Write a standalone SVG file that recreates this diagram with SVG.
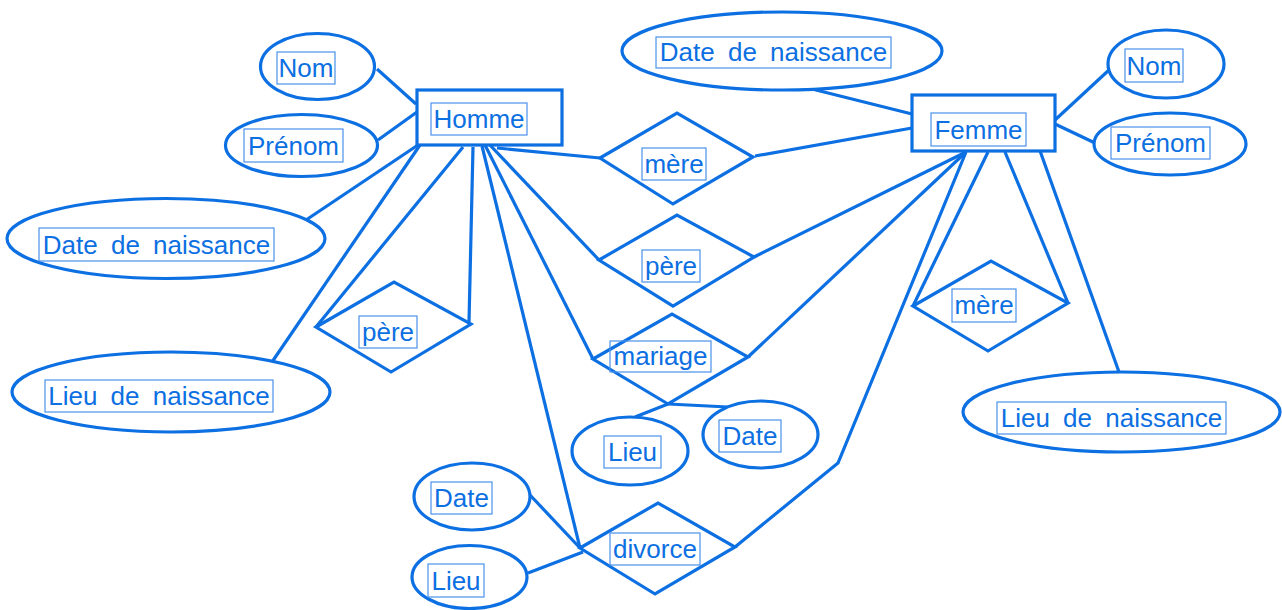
<svg xmlns="http://www.w3.org/2000/svg" width="1282" height="610" viewBox="0 0 1282 610">
<style>
.s{fill:none;stroke:#0c6fe2;stroke-width:3.2;stroke-linejoin:miter}
.e{fill:#fff;stroke:#0c6fe2;stroke-width:3.2}
.b{fill:none;stroke:#4a92ec;stroke-width:1.2}
.t{font-family:"Liberation Sans",Arial,sans-serif;font-size:26px;fill:#0c6fe2;text-anchor:middle}
.w{word-spacing:6px}
</style>
<rect width="1282" height="610" fill="#fff"/>
<g id="connectors" class="s">
<line x1="377" y1="69" x2="416" y2="104"/>
<line x1="378" y1="140" x2="417" y2="112"/>
<line x1="418" y1="145" x2="306" y2="220"/>
<line x1="420" y1="145" x2="272" y2="362"/>
<line x1="463" y1="147" x2="316" y2="327"/>
<line x1="473" y1="147" x2="469" y2="322"/>
<line x1="482" y1="146" x2="580" y2="548"/>
<line x1="485" y1="145" x2="593" y2="359"/>
<line x1="488" y1="143" x2="599" y2="260"/>
<line x1="497" y1="148" x2="600" y2="158"/>
<line x1="755" y1="156" x2="912" y2="128"/>
<line x1="812" y1="89" x2="912" y2="114"/>
<line x1="1055" y1="120" x2="1109" y2="70"/>
<line x1="1055" y1="124" x2="1095" y2="143"/>
<line x1="754" y1="257" x2="966" y2="152"/>
<line x1="748" y1="357" x2="966" y2="152"/>
<polyline points="735,547 838,463 966,152"/>
<line x1="913" y1="306" x2="988" y2="152"/>
<line x1="1068" y1="303" x2="1005" y2="152"/>
<line x1="1039" y1="148" x2="1119" y2="372"/>
<line x1="668" y1="404" x2="635" y2="417"/>
<line x1="668" y1="404" x2="728" y2="407"/>
<line x1="530" y1="495" x2="580" y2="548"/>
<line x1="528" y1="573" x2="583" y2="552"/>
</g>
<g id="homme"><rect class="e" x="417" y="90" width="145" height="55"/><rect class="b" x="431" y="103" width="96" height="32"/><text class="t" x="479" y="128">Homme</text></g>
<g id="femme"><rect class="e" x="912" y="95" width="143" height="56"/><rect class="b" x="931" y="113" width="95" height="33"/><text class="t" x="978.5" y="139">Femme</text></g>
<g id="h-nom"><ellipse class="e" cx="317.5" cy="66.5" rx="57" ry="33"/><rect class="b" x="277" y="52" width="58" height="32"/><text class="t" x="306" y="77">Nom</text></g>
<g id="h-prenom"><ellipse class="e" cx="301.5" cy="145.5" rx="76" ry="31"/><rect class="b" x="244" y="129" width="99" height="33"/><text class="t" x="293.5" y="155">Prénom</text></g>
<g id="h-date"><ellipse class="e" cx="166" cy="238.5" rx="159" ry="40"/><rect class="b" x="39" y="228" width="235" height="33"/><text class="t w" x="156.5" y="254">Date de naissance</text></g>
<g id="h-lieu"><ellipse class="e" cx="171" cy="392" rx="159" ry="40"/><rect class="b" x="45" y="380" width="228" height="32"/><text class="t w" x="159" y="405">Lieu de naissance</text></g>
<g id="f-date"><ellipse class="e" cx="782" cy="51" rx="160" ry="39"/><rect class="b" x="656" y="37" width="235" height="31"/><text class="t w" x="773.5" y="61">Date de naissance</text></g>
<g id="f-nom"><ellipse class="e" cx="1166" cy="64" rx="58" ry="34"/><rect class="b" x="1125" y="49" width="58" height="33"/><text class="t" x="1154" y="75">Nom</text></g>
<g id="f-prenom"><ellipse class="e" cx="1170" cy="144" rx="76" ry="31"/><rect class="b" x="1111" y="127" width="99" height="32"/><text class="t" x="1160.5" y="152">Prénom</text></g>
<g id="f-lieu"><ellipse class="e" cx="1121.5" cy="412" rx="158.5" ry="40"/><rect class="b" x="997" y="402" width="229" height="32"/><text class="t w" x="1111.5" y="427">Lieu de naissance</text></g>
<g id="m-lieu"><ellipse class="e" cx="630" cy="451" rx="58" ry="34"/><rect class="b" x="604" y="436" width="57" height="32"/><text class="t" x="632.5" y="461">Lieu</text></g>
<g id="m-date"><ellipse class="e" cx="760.5" cy="434.5" rx="57.5" ry="33.5"/><rect class="b" x="719" y="420" width="62" height="32"/><text class="t" x="750" y="445">Date</text></g>
<g id="d-date"><ellipse class="e" cx="472" cy="496.5" rx="58" ry="33.5"/><rect class="b" x="431" y="482" width="61" height="32"/><text class="t" x="461.5" y="507">Date</text></g>
<g id="d-lieu"><ellipse class="e" cx="469.5" cy="577" rx="57.5" ry="31.5"/><rect class="b" x="428" y="564" width="56" height="33"/><text class="t" x="456" y="590">Lieu</text></g>
<g id="mere-mid"><polygon class="e" points="600,158 677,113 753,157 673,204"/><rect class="b" x="642" y="148" width="64" height="32"/><text class="t" x="674" y="173">mère</text></g>
<g id="pere-mid"><polygon class="e" points="599,260 677,215 754,257 673,306"/><rect class="b" x="642" y="250" width="58" height="32"/><text class="t" x="671" y="275">père</text></g>
<g id="mariage"><polygon class="e" points="593,359 672,314 748,357 668,404"/><rect class="b" x="610" y="341" width="101" height="31"/><text class="t" x="660.5" y="365">mariage</text></g>
<g id="divorce"><polygon class="e" points="580,548 658,503 735,547 655,594"/><rect class="b" x="610" y="533" width="90" height="32"/><text class="t" x="655" y="558">divorce</text></g>
<g id="pere-left"><polygon class="e" points="316,327 394,282 471,324 391,372"/><rect class="b" x="359" y="316" width="58" height="32"/><text class="t" x="388" y="341">père</text></g>
<g id="mere-right"><polygon class="e" points="913,306 991,261 1068,303 988,351"/><rect class="b" x="952" y="289" width="64" height="33"/><text class="t" x="984" y="314">mère</text></g>
</svg>
